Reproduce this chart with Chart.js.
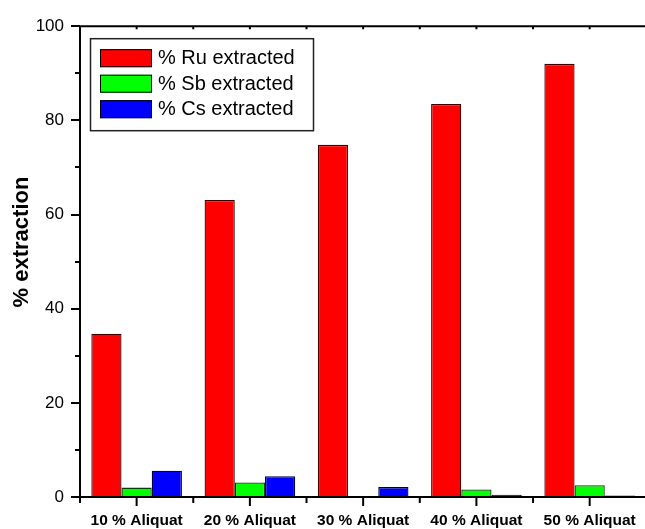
<!DOCTYPE html>
<html><head><meta charset="utf-8">
<script src="https://cdn.jsdelivr.net/npm/chart.js@4"></script>
<style>html,body{margin:0;padding:0;overflow:hidden;background:#fff;width:645px;height:529px}canvas{display:block}</style>
</head><body><canvas id="c" width="650" height="529"></canvas>
<script>
const categories = ['10 % Aliquat','20 % Aliquat','30 % Aliquat','40 % Aliquat','50 % Aliquat'];
const ruExtracted = [34.7, 63.1, 74.8, 83.5, 92.0];
const sbExtracted = [2.0, 3.1, 0.1, 1.6, 2.5];
const csExtracted = [5.6, 4.4, 2.1, 0.5, 0.3];
const seriesLabels = ['% Ru extracted', '% Sb extracted', '% Cs extracted'];
const yTickStep = 20;
const yMinorStep = 10;
const yAxisTitle = '% extraction';
const FONT = '"Liberation Sans", Arial, sans-serif';

const framePlugin = {
  id: 'frame',
  afterDraw(chart) {
    const ctx = chart.ctx, a = chart.chartArea;
    const xs = chart.scales.x, ys = chart.scales.y;
    ctx.save();
    ctx.strokeStyle = '#000';
    ctx.lineWidth = 2;
    ctx.beginPath();
    ctx.moveTo(a.left, a.top); ctx.lineTo(a.right, a.top);
    ctx.moveTo(a.left, a.top); ctx.lineTo(a.left, a.bottom);
    ctx.moveTo(a.left - 9, a.bottom); ctx.lineTo(a.right, a.bottom);
    for (let v = ys.min; v <= ys.max + 1e-9; v += yMinorStep) {
      const y = Math.round(ys.getPixelForValue(v));
      const len = (v % yTickStep === 0) ? 9 : 5;
      ctx.moveTo(a.left - len, y); ctx.lineTo(a.left, y);
    }
    const n = chart.data.labels.length;
    for (let i = 0; i < n; i++) {
      const cx = xs.getPixelForValue(i);
      ctx.moveTo(cx, a.bottom); ctx.lineTo(cx, a.bottom + 9);
      ctx.moveTo(cx, a.top); ctx.lineTo(cx, a.top + 3);
    }
    for (let i = 0; i <= n; i++) {
      const bx = xs.getPixelForValue(i - 0.5);
      ctx.moveTo(bx, a.bottom); ctx.lineTo(bx, a.bottom + 6);
      ctx.moveTo(bx, a.top); ctx.lineTo(bx, a.top + 3);
    }
    ctx.stroke();

    ctx.fillStyle = '#000';
    ctx.font = 'bold 22px ' + FONT;
    ctx.textAlign = 'center';
    ctx.textBaseline = 'middle';
    ctx.translate(22, 242);
    ctx.rotate(-Math.PI / 2);
    ctx.fillText(yAxisTitle, 0, 0);
    ctx.restore();

    ctx.save();
    const lx = a.left + 10, ly = a.top + 12, lw = 223, lh = 92;
    ctx.fillStyle = '#fff';
    ctx.fillRect(lx, ly, lw, lh);
    ctx.strokeStyle = '#222';
    ctx.lineWidth = 1.5;
    ctx.strokeRect(lx + 0.5, ly + 0.5, lw, lh);
    ctx.font = '20px ' + FONT;
    ctx.textAlign = 'left';
    ctx.textBaseline = 'middle';
    chart.data.datasets.forEach((ds, i) => {
      const sy = ly + 11 + i * 25.5;
      ctx.fillStyle = ds.backgroundColor;
      ctx.fillRect(lx + 10, sy, 52, 18);
      ctx.strokeStyle = '#000';
      ctx.lineWidth = 1;
      ctx.strokeRect(lx + 10.5, sy + 0.5, 51, 17);
      ctx.fillStyle = '#000';
      ctx.fillText(ds.label, lx + 68, sy + 9.5);
    });
    ctx.restore();
  }
};

new Chart(document.getElementById('c'), {
  type: 'bar',
  data: {
    labels: categories,
    datasets: [
      { label: seriesLabels[0], data: ruExtracted, backgroundColor: '#ff0000', borderColor: '#400000', borderWidth: 1.3 },
      { label: seriesLabels[1], data: sbExtracted, backgroundColor: '#00ff00', borderColor: '#004000', borderWidth: 1.3 },
      { label: seriesLabels[2], data: csExtracted, backgroundColor: '#0000ff', borderColor: '#000040', borderWidth: 1.3 }
    ]
  },
  options: {
    responsive: false,
    animation: false,
    layout: { padding: { top: 24, right: 2.5, left: 0, bottom: 0 } },
    datasets: { bar: { categoryPercentage: 0.8, barPercentage: 1.0 } },
    plugins: { legend: { display: false }, tooltip: { enabled: false } },
    scales: {
      x: {
        grid: { display: false, drawTicks: false },
        border: { display: false },
        ticks: { color: '#000', font: { family: FONT, size: 15.5, weight: 'bold' }, padding: 14, maxRotation: 0, autoSkip: false },
        afterFit(s) { s.height = 32; }
      },
      y: {
        min: 0, max: 100,
        grid: { display: false, drawTicks: false },
        border: { display: false },
        ticks: { stepSize: yTickStep, color: '#000', font: { family: FONT, size: 17 }, padding: 16 },
        afterFit(s) { s.width = 80; }
      }
    }
  },
  plugins: [framePlugin]
});
</script>
</body></html>
